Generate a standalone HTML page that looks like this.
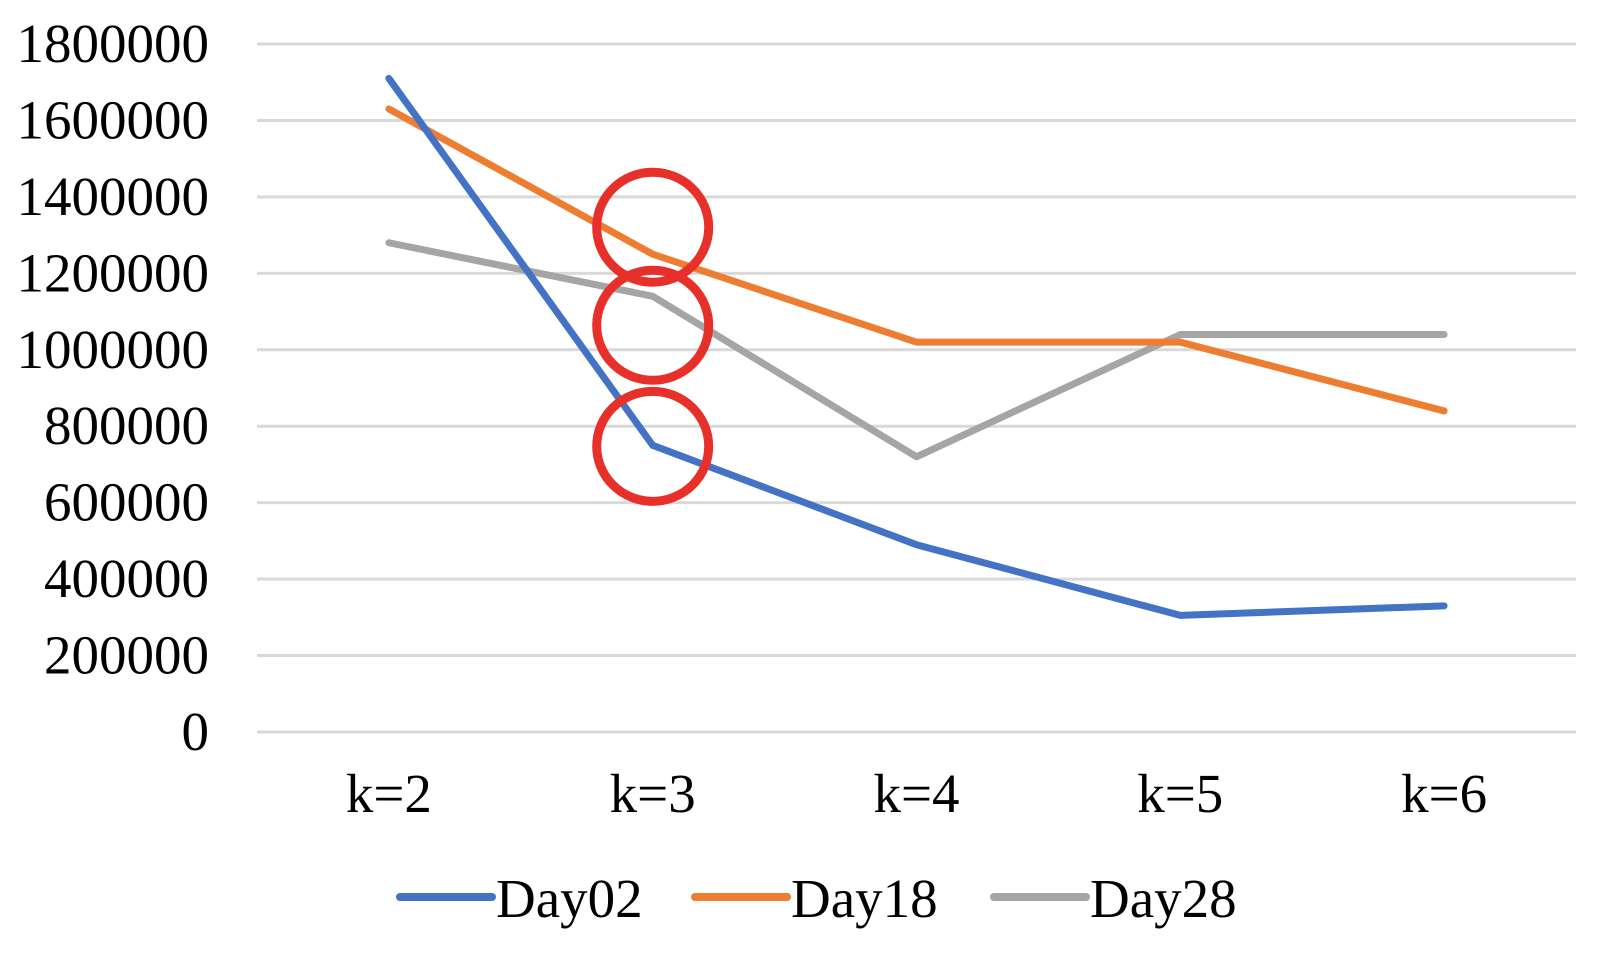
<!DOCTYPE html>
<html><head><meta charset="utf-8"><style>
html,body{margin:0;padding:0;background:#fff;}
svg{display:block;font-family:"Liberation Serif",serif;}
</style></head><body>
<svg width="1606" height="954" viewBox="0 0 1606 954">
<g id="grid"></g><g id="ylab"></g><g id="xlab"></g><g id="lines"></g><g id="ann"></g><g id="legend"></g>
</svg>
<script>
const categories=["k=2","k=3","k=4","k=5","k=6"];
const day02=[1710000,750000,490000,305000,330000];
const day18=[1630000,1250000,1020000,1020000,840000];
const day28=[1280000,1140000,720000,1040000,1040000];
const yTicks=[0,200000,400000,600000,800000,1000000,1200000,1400000,1600000,1800000];
const seriesNames=["Day02","Day18","Day28"];
const highlight=[1250000,1140000,750000];
const NS="http://www.w3.org/2000/svg";
const X0=257,X1=1576,Y0=732,Y1=44,YMAX=1800000;
const step=(X1-X0)/categories.length;
const x=i=>X0+step*(i+0.5);
const y=v=>Y0-(v/YMAX)*(Y0-Y1);
function mk(t,a,p){const e=document.createElementNS(NS,t);for(const k in a)e.setAttribute(k,a[k]);p.appendChild(e);return e;}
const grid=document.getElementById('grid'),ylab=document.getElementById('ylab');
yTicks.forEach(v=>{
 const l=mk('line',{x1:X0,x2:X1,y1:y(v),y2:y(v),stroke:'#d9d9d9','stroke-width':3},grid);
 
 
 const t=mk('text',{x:209,y:y(v)+18,'text-anchor':'end','font-size':55,fill:'#000'},ylab);
 t.textContent=v;
 
 
});
const xl=document.getElementById('xlab');
categories.forEach((c,i)=>{
 const t=mk('text',{x:x(i),y:812,'text-anchor':'middle','font-size':55,fill:'#000'},xl);
 t.textContent=c;
 
 
});
const colors=["#4472c4","#ed7d31","#a5a5a5"];
const data=[day02,day18,day28];
const lg=document.getElementById('lines');
[2,1,0].forEach(s=>{
 const p=mk('polyline',{points:data[s].map((v,i)=>x(i)+','+y(v)).join(' '),fill:'none',stroke:colors[s],'stroke-width':7,'stroke-linejoin':'round','stroke-linecap':'round'},lg);
 
 
});
const ann=document.getElementById('ann');
const offs=[-27,29,1];
highlight.forEach((v,j)=>{
 const e=mk('ellipse',{cx:x(1),cy:y(v)+offs[j],rx:56,ry:55,fill:'none',stroke:'#e8302a','stroke-width':9},ann);
 
 
});
const leg=document.getElementById('legend');
const lx=[400,695,994];
seriesNames.forEach((n,i)=>{
 const g=mk('g',{},leg);
 
 
 mk('line',{x1:lx[i],x2:lx[i]+92,y1:897,y2:897,stroke:colors[i],'stroke-width':8,'stroke-linecap':'round'},g);
 const t=mk('text',{x:lx[i]+96,y:917,'font-size':55,fill:'#000'},g);
 t.textContent=n;
});
</script>
</body></html>
